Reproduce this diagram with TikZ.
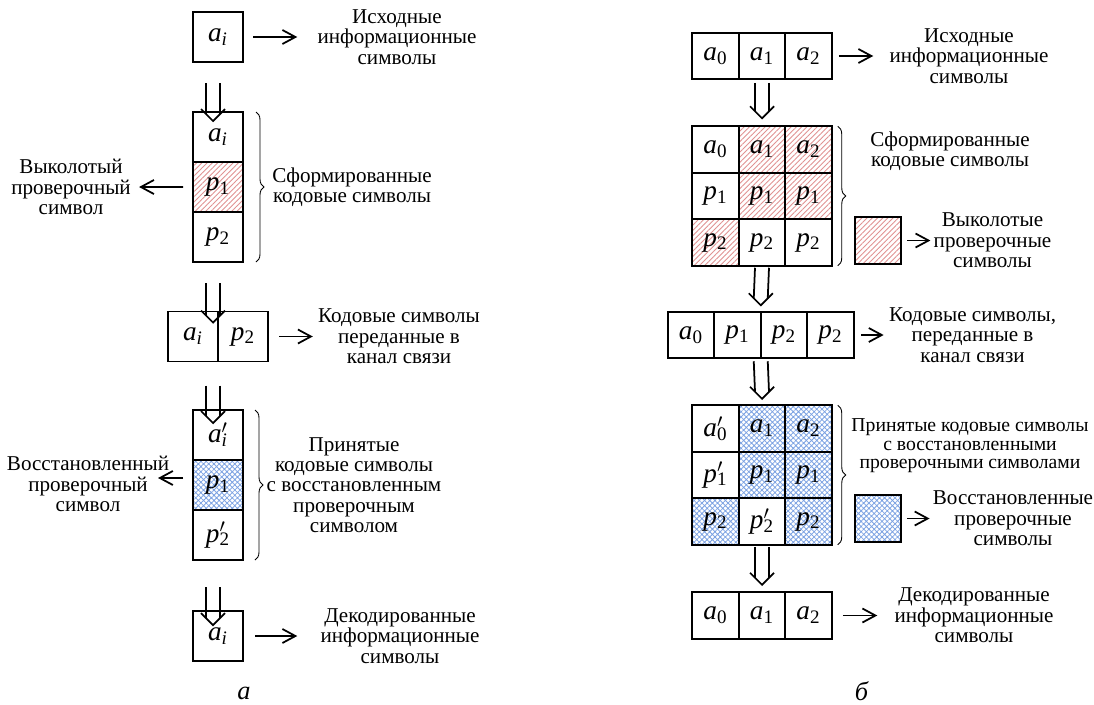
\documentclass[tikz,border=0pt]{standalone}
\usepackage{fontspec}
\setmainfont{Liberation Serif}
\usetikzlibrary{arrows.meta,positioning,calc,decorations.pathreplacing,patterns.meta}

\definecolor{hatchred}{RGB}{224,146,146}
\definecolor{hatchblue}{RGB}{124,162,226}

\newcommand{\sy}[2]{\textit{#1}\textsubscript{#2}}
\newcommand{\syp}[2]{\textit{#1}\rlap{$^{\prime}$}\textsubscript{#2}}
% double arrow: start point, tip point
\newcommand{\dbl}[2]{%
  \draw[dblline] ($#1+(-0.14,0)$) -- ($#2+(-0.14,0.14)$);
  \draw[dblline] ($#1+(0.14,0)$) -- ($#2+(0.14,0.14)$);
  \draw[dblline] ($#2+(-0.24,0.24)$) -- #2 -- ($#2+(0.24,0.24)$);}

\begin{document}
\begin{tikzpicture}[
        cell/.style={rectangle, draw=black, line width=1pt, outer sep=0pt, inner sep=0pt, minimum width=1cm, minimum height=1cm, font=\fontsize{15.5}{17}\selectfont},
        rcell/.style={cell, minimum width=0.93cm, minimum height=0.93cm},
        punct/.style={pattern={Lines[angle=45,distance=2.1pt,line width=0.5pt]}, pattern color=hatchred},
        rest/.style={pattern={Hatch[angle=45,distance=2.1pt,line width=0.45pt]}, pattern color=hatchblue},
        hr/.style={rcell, punct},
        hb/.style={rcell, rest},
        txt/.style={align=center, inner sep=0pt, font=\fontsize{12}{11.6}\selectfont},
        arrow/.style={-{Straight Barb[length=0.26cm,width=0.28cm]}, line width=1pt},
        dblline/.style={line width=1pt, line join=miter},
        brc/.style={decorate, decoration={brace, amplitude=0.16cm}, line width=0.5pt},
        caption/.style={font=\fontsize{15}{15}\selectfont\itshape}
    ]
        \useasboundingbox (0,0) rectangle (21.88,-14.08);

        % (a) one symbol
        \node[cell] (ai0) at (4.36,-0.74) {\sy{a}{\textit{i}}};
        \node[txt] (t0) at (7.94,-0.74) {Исходные\\информационные\\символы};
        \draw[arrow, shorten <=0.2cm, shorten >=0.4cm] (ai0) -- (t0);

        \node[cell] (c1a) at (4.36,-2.74) {\sy{a}{\textit{i}}};
        \node[cell, punct, below=0pt of c1a] (c1b) {\sy{p}{1}};
        \node[cell, below=0pt of c1b] (c1c) {\sy{p}{2}};
        \dbl{([xshift=-0.1cm,yshift=-0.42cm]ai0.south)}{([xshift=-0.1cm,yshift=-0.18cm]c1a.north)}
        \draw[brc] ([xshift=0.26cm]c1a.north east) -- ([xshift=0.26cm]c1c.south east);
        \node[txt] (t1) at (7.04,-3.74) {Сформированные\\кодовые символы};
        \node[txt] (t1l) at (1.42,-3.74) {Выколотый\\проверочный\\символ};
        \draw[arrow, shorten <=0.2cm, shorten >=0.16cm] (c1b) -- (t1l);

        \node[cell] (r2a) at (3.86,-6.73) {\sy{a}{\textit{i}}};
        \node[cell, right=0pt of r2a] (r2b) {\sy{p}{2}};
        \dbl{([xshift=-0.1cm,yshift=-0.42cm]c1c.south)}{([xshift=-0.1cm,yshift=-0.22cm]r2a.north east)}
        \node[txt] (t2) at (7.98,-6.73) {Кодовые символы\\переданные в\\канал связи};
        \draw[arrow, shorten <=0.22cm, shorten >=0.1cm] (r2b) -- (t2);

        \node[cell] (c2a) at (4.36,-8.7) {\syp{a}{\textit{i}}};
        \node[cell, rest, below=0pt of c2a] (c2b) {\sy{p}{1}};
        \node[cell, below=0pt of c2b] (c2c) {\syp{p}{2}};
        \dbl{([xshift=-0.1cm,yshift=-0.48cm]r2a.south east)}{([xshift=-0.1cm,yshift=-0.26cm]c2a.north)}
        \draw[brc] ([xshift=0.24cm]c2a.north east) -- ([xshift=0.24cm]c2c.south east);
        \node[txt] (t3) at (7.08,-9.7) {Принятые\\кодовые символы\\с восстановленным\\проверочным\\символом};
        \node[txt] (t3l) at (1.76,-9.68) {Восстановленный\\проверочный\\символ};
        \coordinate (e3) at (3.16,-9.56);
        \draw[arrow, shorten <=0.2cm] (c2b.west |- e3) -- (e3);

        \node[cell] (ai4) at (4.36,-12.72) {\sy{a}{\textit{i}}};
        \dbl{([xshift=-0.1cm,yshift=-0.54cm]c2c.south)}{([xshift=-0.1cm,yshift=-0.28cm]ai4.north)}
        \node[txt] (t4) at (8.0,-12.72) {Декодированные\\информационные\\символы};
        \draw[arrow, shorten <=0.24cm, shorten >=0.46cm] (ai4) -- (t4);
        \node[caption] (la) at (4.88,-13.86) {а};

        % (b) three symbols
        \node[rcell] (b0) at (14.31,-1.12) {\sy{a}{0}};
        \node[rcell, right=0pt of b0] (b1) {\sy{a}{1}};
        \node[rcell, right=0pt of b1] (b2) {\sy{a}{2}};
        \node[txt] (u0) at (19.38,-1.12) {Исходные\\информационные\\символы};
        \draw[arrow, shorten <=0.14cm, shorten >=0.32cm] (b2) -- (u0);

        \foreach \r/\c/\st/\lab in {0/0/rcell/{\sy{a}{0}}, 0/1/hr/{\sy{a}{1}}, 0/2/hr/{\sy{a}{2}},
                                    1/0/rcell/{\sy{p}{1}}, 1/1/hr/{\sy{p}{1}}, 1/2/hr/{\sy{p}{1}},
                                    2/0/hr/{\sy{p}{2}}, 2/1/rcell/{\sy{p}{2}}, 2/2/rcell/{\sy{p}{2}}}
            \node[\st] (f\r\c) at (14.31+0.93*\c, -2.99-0.93*\r) {\lab};
        \dbl{([yshift=-0.07cm]b1.south)}{([yshift=0.16cm]f01.north)}
        \draw[brc] ([xshift=0.12cm]f02.north east) -- ([xshift=0.12cm]f22.south east);
        \node[txt] (u1) at (19.0,-3.02) {Сформированные\\кодовые символы};
        \node[hr] (k1) at (17.56,-4.81) {};
        \node[txt] (u2) at (19.85,-4.81) {Выколотые\\проверочные\\символы};
        \draw[arrow, shorten <=0.12cm, shorten >=0.06cm] (k1) -- (u2);

        \node[rcell] (q0) at (13.82,-6.7) {\sy{a}{0}};
        \node[rcell, right=0pt of q0] (q1) {\sy{p}{1}};
        \node[rcell, right=0pt of q1] (q2) {\sy{p}{2}};
        \node[rcell, right=0pt of q2] (q3) {\sy{p}{2}};
        \dbl{([yshift=-0.04cm]f21.south)}{([yshift=0.13cm]q1.north east)}
        \node[txt] (u3) at (19.45,-6.7) {Кодовые символы,\\переданные в\\канал связи};
        \draw[arrow, shorten <=0.15cm, shorten >=0.1cm] (q3) -- (u3);

        \foreach \r/\c/\st/\lab in {0/0/rcell/{\syp{a}{0}}, 0/1/hb/{\sy{a}{1}}, 0/2/hb/{\sy{a}{2}},
                                    1/0/rcell/{\syp{p}{1}}, 1/1/hb/{\sy{p}{1}}, 1/2/hb/{\sy{p}{1}},
                                    2/0/hb/{\sy{p}{2}}, 2/1/rcell/{\syp{p}{2}}, 2/2/hb/{\sy{p}{2}}}
            \node[\st] (h\r\c) at (14.31+0.93*\c, -8.57-0.93*\r) {\lab};
        \dbl{([yshift=-0.06cm]q1.south east)}{([yshift=0.13cm]h01.north)}
        \draw[brc] ([xshift=0.12cm]h02.north east) -- ([xshift=0.12cm]h22.south east);
        \node[txt, font=\fontsize{11.2}{10.6}\selectfont] (u4) at (19.4,-8.92) {Принятые кодовые символы\\с восстановленными\\проверочными символами};
        \node[hb] (k2) at (17.56,-10.37) {};
        \node[txt] (u5) at (20.26,-10.37) {Восстановленные\\проверочные\\символы};
        \draw[arrow, shorten <=0.12cm, shorten >=0.06cm] (k2) -- (u5);

        \node[rcell] (s0) at (14.31,-12.31) {\sy{a}{0}};
        \node[rcell, right=0pt of s0] (s1) {\sy{a}{1}};
        \node[rcell, right=0pt of s1] (s2) {\sy{a}{2}};
        \dbl{([yshift=-0.04cm]h21.south)}{([yshift=0.15cm]s1.north)}
        \node[txt] (u6) at (19.48,-12.31) {Декодированные\\информационные\\символы};
        \draw[arrow, shorten <=0.22cm, shorten >=0.34cm] (s2) -- (u6);
        \node[caption] (lb) at (17.23,-13.83) {б};
    \end{tikzpicture}
\end{document}
